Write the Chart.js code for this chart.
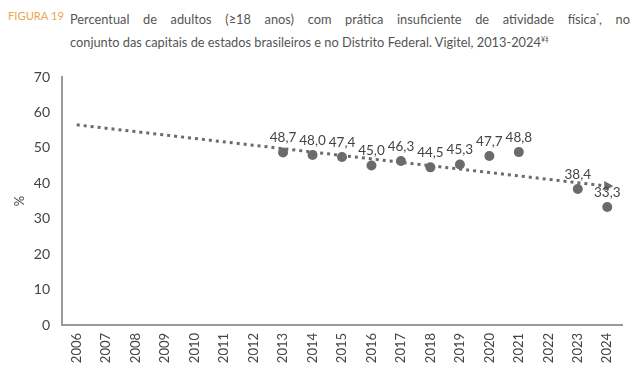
<!DOCTYPE html>
<html>
<head>
<meta charset="utf-8">
<script src="https://cdn.jsdelivr.net/npm/chart.js@4"></script>
<style>
  body { margin: 0; background: #fff; }
  #wrap { position: relative; width: 640px; height: 388px; }
  #title { position: absolute; left: 8px; top: 6px; width: 622px; font-family: Lato, sans-serif; font-size: 12.8px; line-height: 20px; color: #555; }
  #title .fig { position: absolute; left: 0; top: 0; color: #eaa650; font-size: 11.2px; }
  #title .l1 { margin-left: 62px; text-align: justify; text-align-last: justify; white-space: nowrap; }
  #title .l2 { margin-left: 62px; white-space: nowrap; }
  canvas { position: absolute; left: 0; top: 0; }
</style>
</head>
<body>
<div id="wrap">
  <div id="title"><span class="fig">FIGURA 19</span>
    <div class="l1">Percentual de adultos (≥18 anos) com prática insuficiente de atividade física<sup style="font-size:7px">*</sup>, no</div>
    <div class="l2">conjunto das capitais de estados brasileiros e no Distrito Federal. Vigitel, 2013-2024<sup style="font-size:7px">¥ǂ</sup></div>
  </div>
  <canvas id="myChart" width="640" height="388"></canvas>
</div>
<script>
// Data
const years = ["2006", "2007", "2008", "2009", "2010", "2011", "2012", "2013", "2014", "2015",
  "2016", "2017", "2018", "2019", "2020", "2021", "2022", "2023", "2024"];
const values = [null, null, null, null, null, null, null, 48.7, 48.0, 47.4,
  45.0, 46.3, 44.5, 45.3, 47.7, 48.8, null, 38.4, 33.3];
// trend line (start and end only)
const trend = [56.5, null, null, null, null, null, null, null, null, null,
  null, null, null, null, null, null, null, null, 39.2];
const yTicks = [0, 10, 20, 30, 40, 50, 60, 70];

const gray = "#6b6b6b";

// Draw value labels above the points
const valueLabels = {
  id: "valueLabels",
  afterDatasetsDraw(chart) {
    const c = chart.ctx;
    const meta = chart.getDatasetMeta(0);
    c.save();
    c.font = "13.5px Lato, sans-serif";
    c.fillStyle = "#444";
    c.textAlign = "center";
    c.textBaseline = "bottom";
    meta.data.forEach((pt, i) => {
      const v = values[i];
      if (v === null) return;
      c.fillText(v.toFixed(1).replace(".", ","), pt.x, pt.y - 8);
    });
    c.restore();
  },
};

const ctx = document.getElementById("myChart").getContext("2d");
new Chart(ctx, {
  type: "line",
  data: {
    labels: years,
    datasets: [
      {
        data: values,
        showLine: false,
        pointRadius: 5,
        pointHoverRadius: 5,
        backgroundColor: gray,
        borderColor: gray,
        borderWidth: 0,
        clip: false,
        order: 1,
      },
      {
        data: trend,
        spanGaps: true,
        borderColor: gray,
        borderWidth: 3,
        borderDash: [3, 4],
        pointStyle: "triangle",
        pointRotation: 90,
        pointRadius: trend.map((v, i) => (i === trend.length - 1 ? 6 : 0)),
        backgroundColor: gray,
        pointBorderWidth: 0,
        clip: false,
        order: 2,
      },
    ],
  },
  options: {
    responsive: false,
    animation: false,
    layout: { padding: { top: 77, right: 18, left: 12, bottom: 0 } },
    plugins: { legend: { display: false }, tooltip: { enabled: false } },
    scales: {
      x: {
        offset: true,
        grid: { display: false, drawTicks: false },
        border: { color: "#999", width: 2 },
        ticks: {
          minRotation: 90,
          maxRotation: 90,
          padding: 8,
          color: "#444",
          font: { family: "Lato, sans-serif", size: 13 },
        },
        afterFit: (s) => { s.height = 388 - 325; },
      },
      y: {
        min: 0,
        max: 70,
        afterBuildTicks: (s) => { s.ticks = yTicks.map((v) => ({ value: v })); },
        grid: { display: false, drawTicks: false },
        border: { color: "#999", width: 2 },
        title: { display: true, text: "%", color: "#444", font: { family: "Lato, sans-serif", size: 13 }, padding: 0 },
        ticks: {
          padding: 12,
          color: "#444",
          font: { family: "Lato, sans-serif", size: 14 },
        },
        afterFit: (s) => { s.width = 50; },
      },
    },
  },
  plugins: [valueLabels],
});
</script>
</body>
</html>
